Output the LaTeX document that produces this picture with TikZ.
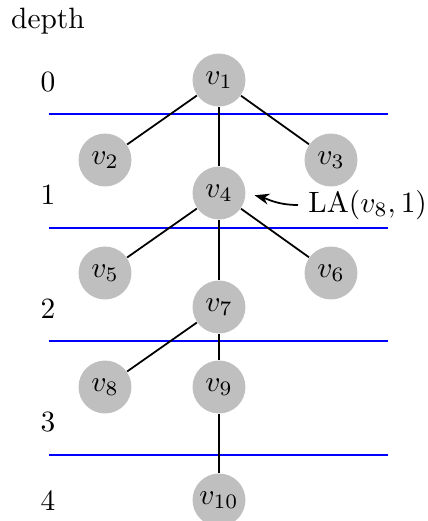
\documentclass[tikz,border=0pt]{standalone}
\usetikzlibrary{arrows.meta}

\begin{document}
\begin{tikzpicture}[x=0.34pt, y=-0.34pt,
  vtx/.style={circle, fill=gray!50, minimum size=18pt, inner sep=0pt},
  tedge/.style={semithick}]
  \useasboundingbox (0,0) rectangle (427,521);

  % depth column
  \node (dlab) at (48,21) {depth};
  \foreach \d/\y in {0/82,1/195,2/309,3/422,4/501} {
    \node (d\d) at (48,\y) {\d};
  }

  % level separators
  \foreach \y in {114,228,341,455} {
    \draw[blue] (49,\y) -- (388,\y);
  }

  % tree
  \node[vtx] (v1) at (219,80) {$v_1$};
  \node[vtx] (v2) at (105,160) {$v_2$};
  \node[vtx] (v3) at (331,160) {$v_3$};
  \node[vtx] (v4) at (219,193) {$v_4$};
  \node[vtx] (v5) at (105,273) {$v_5$};
  \node[vtx] (v6) at (331,273) {$v_6$};
  \node[vtx] (v7) at (219,307) {$v_7$};
  \node[vtx] (v8) at (105,387) {$v_8$};
  \node[vtx] (v9) at (219,387) {$v_9$};
  \node[vtx] (v10) at (219,500) {$v_{10}$};

  \foreach \a/\b in {v1/v2,v1/v3,v1/v4,v4/v5,v4/v6,v4/v7,v7/v8,v7/v9,v9/v10} {
    \draw[tedge] (\a) -- (\b);
  }

  % level ancestor pointer
  \node[anchor=west] (la) at (298,205) {$\mathrm{LA}(v_8,1)$};
  \draw[tedge, -{Stealth[length=5pt]}, shorten >=3pt] (la.west) to[out=180, in=-15] (v4.east);
\end{tikzpicture}
\end{document}
